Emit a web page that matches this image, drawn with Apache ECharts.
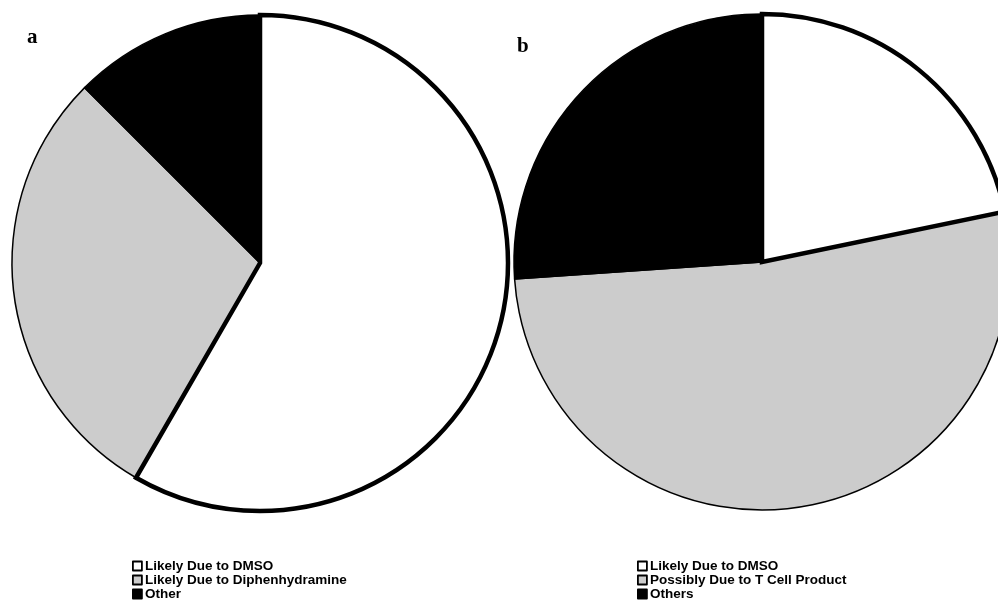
<!DOCTYPE html>
<html>
<head>
<meta charset="utf-8">
<script src="https://cdn.jsdelivr.net/npm/echarts@6/dist/echarts.min.js"></script>
<style>
  html, body { margin: 0; padding: 0; background: #fff; }
  #chart { width: 998px; height: 612px; }
</style>
</head>
<body>
<div id="chart"></div>
<script>
// Panel a: reaction causes
const namesA = ['Likely Due to DMSO', 'Likely Due to Diphenhydramine', 'Other'];
const valuesA = [14, 7, 3];
// Panel b: reaction causes
const namesB = ['Likely Due to DMSO', 'Possibly Due to T Cell Product', 'Others'];
const valuesB = [5, 12, 6];

const fills = ['#ffffff', '#cccccc', '#000000'];

function fillData(names, values) {
  return names.map((n, i) => ({
    name: n,
    value: values[i],
    itemStyle: { color: fills[i], borderColor: '#000', borderWidth: 1.5 }
  }));
}
// outline layer: only the first slice gets the heavy outline, drawn on top
function outlineData(names, values) {
  return names.map((n, i) => ({
    name: n + ' ',
    value: values[i],
    itemStyle: i === 0
      ? { color: 'rgba(0,0,0,0)', borderColor: '#000', borderWidth: 4.5, borderJoin: 'miter' }
      : { color: 'rgba(0,0,0,0)', borderWidth: 0 }
  }));
}
function legendData(names) {
  return names.map((n, i) => ({
    name: n,
    itemStyle: { color: fills[i], borderColor: '#000', borderWidth: 1.8 }
  }));
}

const pieBase = {
  type: 'pie',
  startAngle: 90,
  clockwise: true,
  label: { show: false },
  labelLine: { show: false },
  emphasis: { disabled: true },
  animation: false,
  silent: true
};

const legendBase = {
  orient: 'vertical',
  icon: 'rect',
  itemWidth: 9,
  itemHeight: 9,
  itemGap: 0,
  selectedMode: false,
  textStyle: {
    fontFamily: 'Liberation Sans, Arial, sans-serif',
    fontWeight: 'bold',
    fontSize: 13.5,
    color: '#000',
    padding: [0, 0, 0, -2],
    lineHeight: 14
  },
  padding: 0
};

const chart = echarts.init(document.getElementById('chart'), null, { renderer: 'canvas' });
chart.setOption({
  backgroundColor: '#fff',
  title: [
    { text: 'a', left: 22, top: 22,
      textStyle: { fontFamily: 'Liberation Serif, Times New Roman, serif', fontWeight: 'bold', fontSize: 21, color: '#000' } },
    { text: 'b', left: 512, top: 31,
      textStyle: { fontFamily: 'Liberation Serif, Times New Roman, serif', fontWeight: 'bold', fontSize: 21, color: '#000' } }
  ],
  legend: [
    Object.assign({}, legendBase, { left: 132, top: 559, data: legendData(namesA) }),
    Object.assign({}, legendBase, { left: 637, top: 559, data: legendData(namesB) })
  ],
  series: [
    Object.assign({}, pieBase, { name: 'a', center: [260, 263], radius: 248, data: fillData(namesA, valuesA) }),
    Object.assign({}, pieBase, { name: 'a-outline', center: [260, 263], radius: 248, data: outlineData(namesA, valuesA) }),
    Object.assign({}, pieBase, { name: 'b', center: [762, 262], radius: 248, data: fillData(namesB, valuesB) }),
    Object.assign({}, pieBase, { name: 'b-outline', center: [762, 262], radius: 248, data: outlineData(namesB, valuesB) })
  ]
});
</script>
</body>
</html>
